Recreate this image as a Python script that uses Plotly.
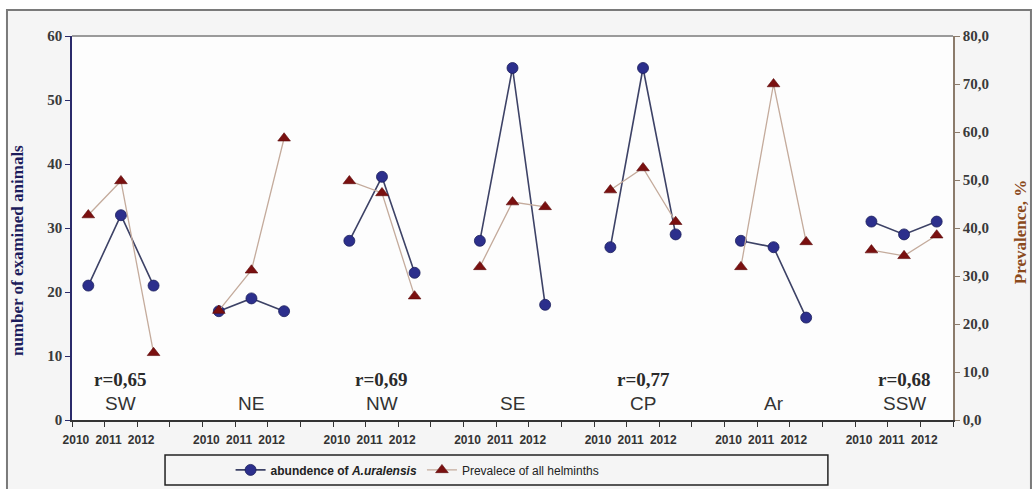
import plotly.graph_objects as go

regions = ["SW", "NE", "NW", "SE", "CP", "Ar", "SSW"]
years = ["2010", "2011", "2012"]
r_labels = ["r=0,65", "", "r=0,69", "", "r=0,77", "", "r=0,68"]

abundance = [
    [21, 32, 21],
    [17, 19, 17],
    [28, 38, 23],
    [28, 55, 18],
    [27, 55, 29],
    [28, 27, 16],
    [31, 29, 31],
]
prevalence = [
    [42.7, 49.8, 14.0],
    [22.8, 31.2, 58.7],
    [49.8, 47.3, 25.8],
    [31.9, 45.4, 44.4],
    [47.9, 52.5, 41.3],
    [31.9, 70.0, 37.1],
    [35.4, 34.2, 38.5],
]

left_ticks = [0, 10, 20, 30, 40, 50, 60]
right_ticks = [0, 10, 20, 30, 40, 50, 60, 70, 80]
right_ticktext = ["0,0", "10,0", "20,0", "30,0", "40,0", "50,0", "60,0", "70,0", "80,0"]

# slot positions: 3 years per region + one empty slot between regions
xs, ya, yp = [], [], []
label_pos, label_txt = [], []
for g in range(len(regions)):
    for k in range(len(years)):
        xs.append(4 * g + k)
        ya.append(abundance[g][k])
        yp.append(prevalence[g][k])
        label_pos.append(4 * g + k - 0.38)
        label_txt.append(years[k])
    if g < len(regions) - 1:
        xs.append(4 * g + 3)
        ya.append(None)
        yp.append(None)
n_slots = 4 * len(regions) - 1

fig = go.Figure()
fig.add_trace(go.Scatter(
    x=xs, y=ya, mode="lines+markers", name="<b>abundence of <i>A.uralensis</i></b>",
    line=dict(color="#3d4266", width=1.6),
    marker=dict(symbol="circle", size=11, color="#2c2f8c", line=dict(color="#1c1f5c", width=0.8)),
    connectgaps=False, yaxis="y",
))
fig.add_trace(go.Scatter(
    x=xs, y=yp, mode="lines+markers", name="Prevalece of all helminths",
    line=dict(color="#c4ab9c", width=1.3),
    marker=dict(symbol="triangle-up", size=11, color="#7a1010", line=dict(color="#5a0808", width=0.6)),
    connectgaps=False, yaxis="y2",
))

annotations = []
for g, reg in enumerate(regions):
    annotations.append(dict(
        x=4 * g + 1, y=2.6, xref="x", yref="y", text=reg, showarrow=False,
        font=dict(family="Liberation Sans", size=19, color="#333333"),
    ))
    if r_labels[g]:
        annotations.append(dict(
            x=4 * g + 1, y=6.4, xref="x", yref="y", text="<b>" + r_labels[g] + "</b>", showarrow=False,
            font=dict(family="Liberation Serif", size=19, color="#2a2a2a"),
        ))

annotations.append(dict(
    x=-0.0624, y=0.44, xref="paper", yref="paper", text="<b>number of examined animals</b>",
    textangle=-90, showarrow=False, xanchor="center", yanchor="middle",
    font=dict(family="Liberation Serif", size=17, color="#1c1c5c"),
))
annotations.append(dict(
    x=1.0765, y=0.49, xref="paper", yref="paper", text="<b>Prevalence, %</b>",
    textangle=-90, showarrow=False, xanchor="center", yanchor="middle",
    font=dict(family="Liberation Serif", size=17, color="#8b4a1c"),
))

shapes = [
    # outer frame
    dict(type="rect", xref="paper", yref="paper", x0=-0.0738, x1=1.0885, y0=-0.2, y1=1.0677,
         line=dict(color="#7a7a7a", width=2), fillcolor="#f5f5f5", layer="below"),
    # white plot area
    dict(type="rect", xref="paper", yref="paper", x0=0, x1=1, y0=0, y1=1,
         line=dict(width=0), fillcolor="#fdfdfd", layer="below"),
    # top border of plot area
    dict(type="line", xref="paper", yref="paper", x0=0, x1=1, y0=1, y1=1,
         line=dict(color="#9a9a9a", width=2)),
    # legend box
    dict(type="rect", xref="paper", yref="paper", x0=0.1056, x1=0.858, y0=-0.1693, y1=-0.0911,
         line=dict(color="#222222", width=1.5), fillcolor="rgba(0,0,0,0)"),
]

fig.update_layout(
    width=1035, height=489,
    margin=dict(l=72, r=82, t=36, b=69, autoexpand=False),
    paper_bgcolor="white",
    plot_bgcolor="#fdfdfd",
    showlegend=True,
    legend=dict(orientation="h", x=0.18, y=-0.130, xanchor="left", yanchor="middle",
                bgcolor="rgba(0,0,0,0)", font=dict(family="Liberation Sans", size=12, color="#222222")),
    xaxis=dict(
        range=[-0.5, n_slots - 0.5], tickmode="array", tickvals=label_pos, ticktext=label_txt,
        ticks="", showgrid=False, zeroline=False, showline=True, linecolor="#333333", linewidth=1.5,
        tickfont=dict(family="Liberation Sans", size=12, color="#333333", weight="bold"),
        ticklabelstandoff=8, automargin=False,
        minor=dict(tickmode="linear", tick0=-0.5, dtick=1, ticks="outside", ticklen=5,
                   tickcolor="#333333", tickwidth=1.2, showgrid=False),
    ),
    yaxis=dict(
        range=[0, 60], tickmode="array", tickvals=left_ticks, ticks="outside", ticklen=5,
        tickcolor="#2b2b6b", showgrid=False, zeroline=False, showline=True,
        linecolor="#2b2b6b", linewidth=1.5, automargin=False,
        tickfont=dict(family="Liberation Serif", size=15, color="#3a3a3a", weight="bold"),
    ),
    yaxis2=dict(
        range=[0, 80], overlaying="y", side="right", tickmode="array", tickvals=right_ticks,
        ticktext=right_ticktext, ticks="outside", ticklen=5, tickcolor="#8b7b6b",
        showgrid=False, zeroline=False, showline=True, linecolor="#8b7b6b", linewidth=1.5,
        automargin=False,
        tickfont=dict(family="Liberation Serif", size=15, color="#3a3a3a", weight="bold"),
    ),
    annotations=annotations,
    shapes=shapes,
)

fig.write_html("out.html", config={"displayModeBar": False},
               post_script="document.body.style.margin='0';document.body.style.overflow='hidden';")
